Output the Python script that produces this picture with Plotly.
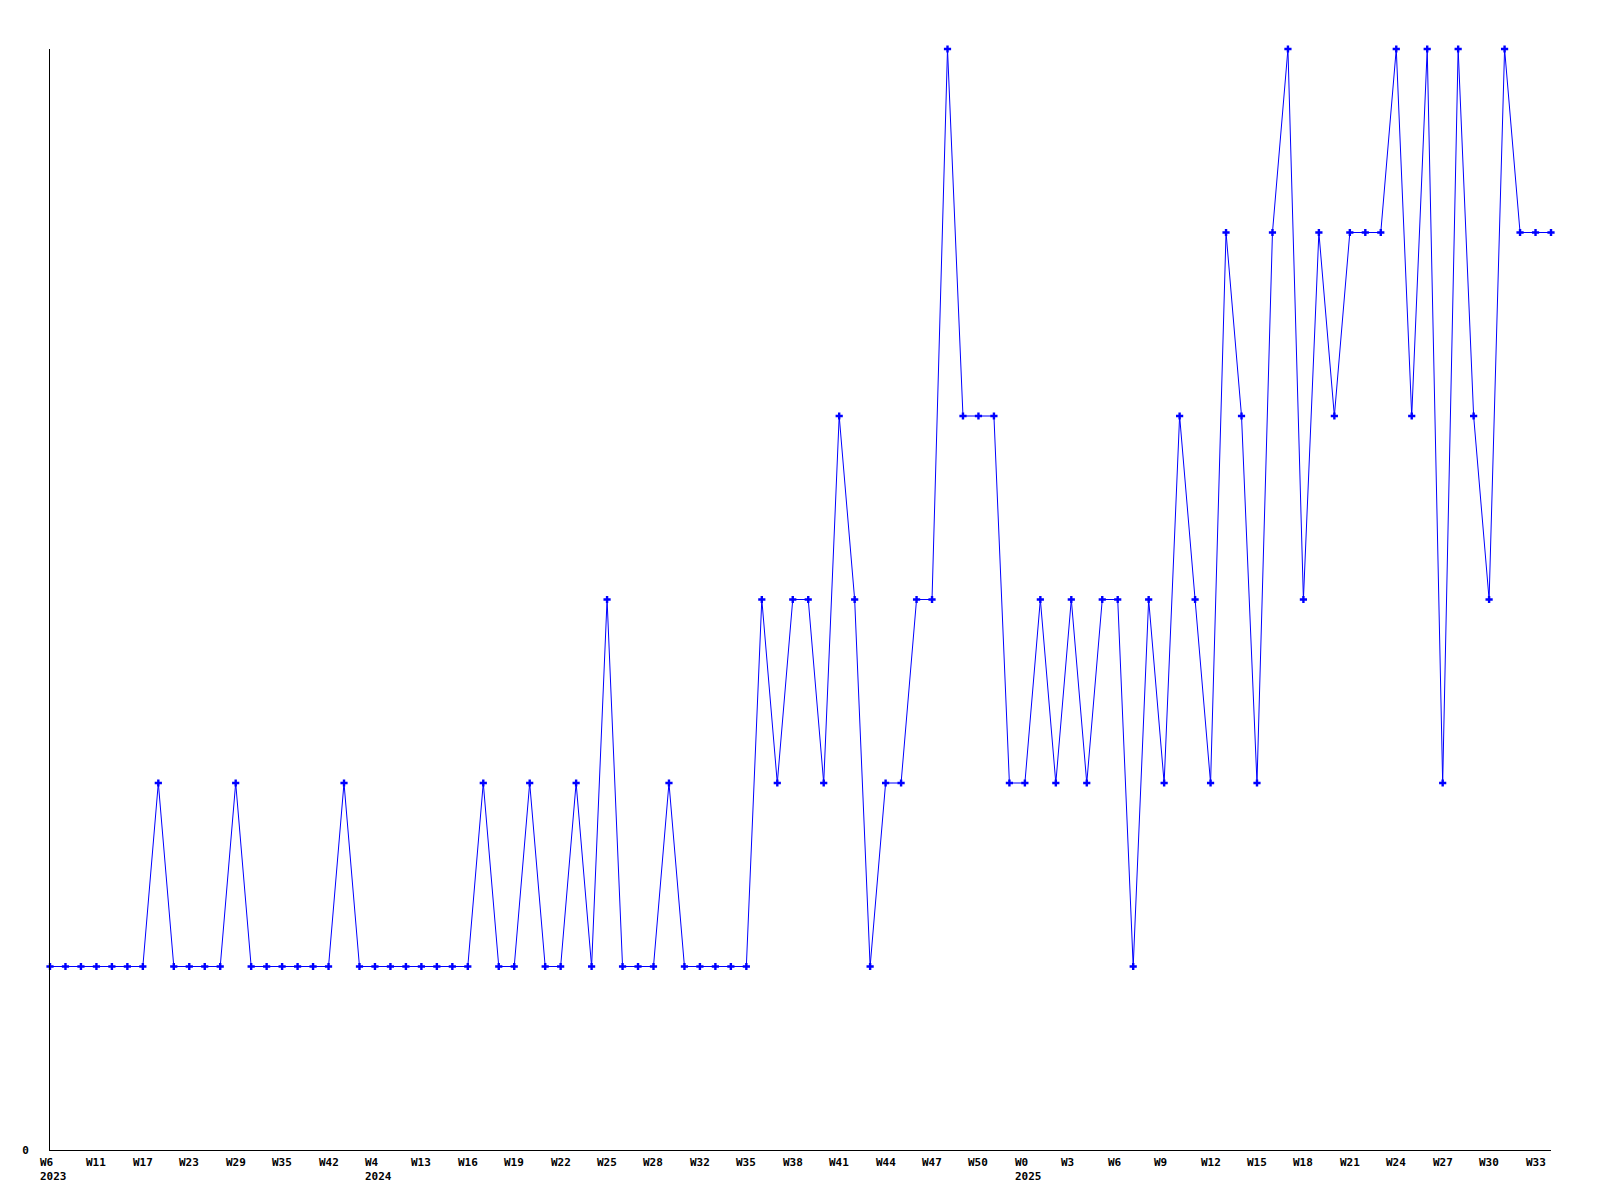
import plotly.graph_objects as go

values = [1, 1, 1, 1, 1, 1, 1, 2, 1, 1,
          1, 1, 2, 1, 1, 1, 1, 1, 1, 2,
          1, 1, 1, 1, 1, 1, 1, 1, 2, 1,
          1, 2, 1, 1, 2, 1, 3, 1, 1, 1,
          2, 1, 1, 1, 1, 1, 3, 2, 3, 3,
          2, 4, 3, 1, 2, 2, 3, 3, 6, 4,
          4, 4, 2, 2, 3, 2, 3, 2, 3, 3,
          1, 3, 2, 4, 3, 2, 5, 4, 2, 5,
          6, 3, 5, 4, 5, 5, 5, 6, 4, 6,
          2, 6, 4, 3, 6, 5, 5, 5]

week_labels = ["W6", "W11", "W17", "W23", "W29", "W35", "W42", "W4", "W13", "W16",
               "W19", "W22", "W25", "W28", "W32", "W35", "W38", "W41", "W44", "W47",
               "W50", "W0", "W3", "W6", "W9", "W12", "W15", "W18", "W21", "W24",
               "W27", "W30", "W33"]
year_labels = {0: "2023", 7: "2024", 21: "2025"}
tick_step = 3

x = list(range(len(values)))

fig = go.Figure()
fig.add_trace(go.Scatter(
    x=x, y=values, mode="lines+markers",
    line=dict(color="#0000ff", width=1),
    marker=dict(symbol="cross", size=6, color="#0000ff", line=dict(width=0)),
    cliponaxis=False,
    hoverinfo="x+y", showlegend=False,
))

font_mono = dict(family="DejaVu Sans Mono", size=11, color="#000000", weight="bold")

for k, lab in enumerate(week_labels):
    txt = lab
    if k in year_labels:
        txt = lab + "<br>" + year_labels[k]
    fig.add_annotation(
        x=k * tick_step, y=0, xref="x", yref="y",
        text=txt, showarrow=False, align="left",
        xanchor="left", yanchor="top", xshift=-12, yshift=-4,
        font=font_mono,
    )

fig.update_layout(
    width=1600, height=1200,
    margin=dict(l=42, r=57, t=41, b=58, pad=0),
    paper_bgcolor="white", plot_bgcolor="white",
    xaxis=dict(range=[0, len(values) - 1], showgrid=False, zeroline=False,
               showline=True, linecolor="black", linewidth=1,
               showticklabels=False, ticks=""),
    yaxis=dict(range=[0, 6], showgrid=False, zeroline=False,
               showline=True, linecolor="black", linewidth=1,
               tickvals=[0], ticktext=["0"], ticks="",
               ticklabelstandoff=18, tickfont=font_mono),
)

fig.write_html("out.html")
